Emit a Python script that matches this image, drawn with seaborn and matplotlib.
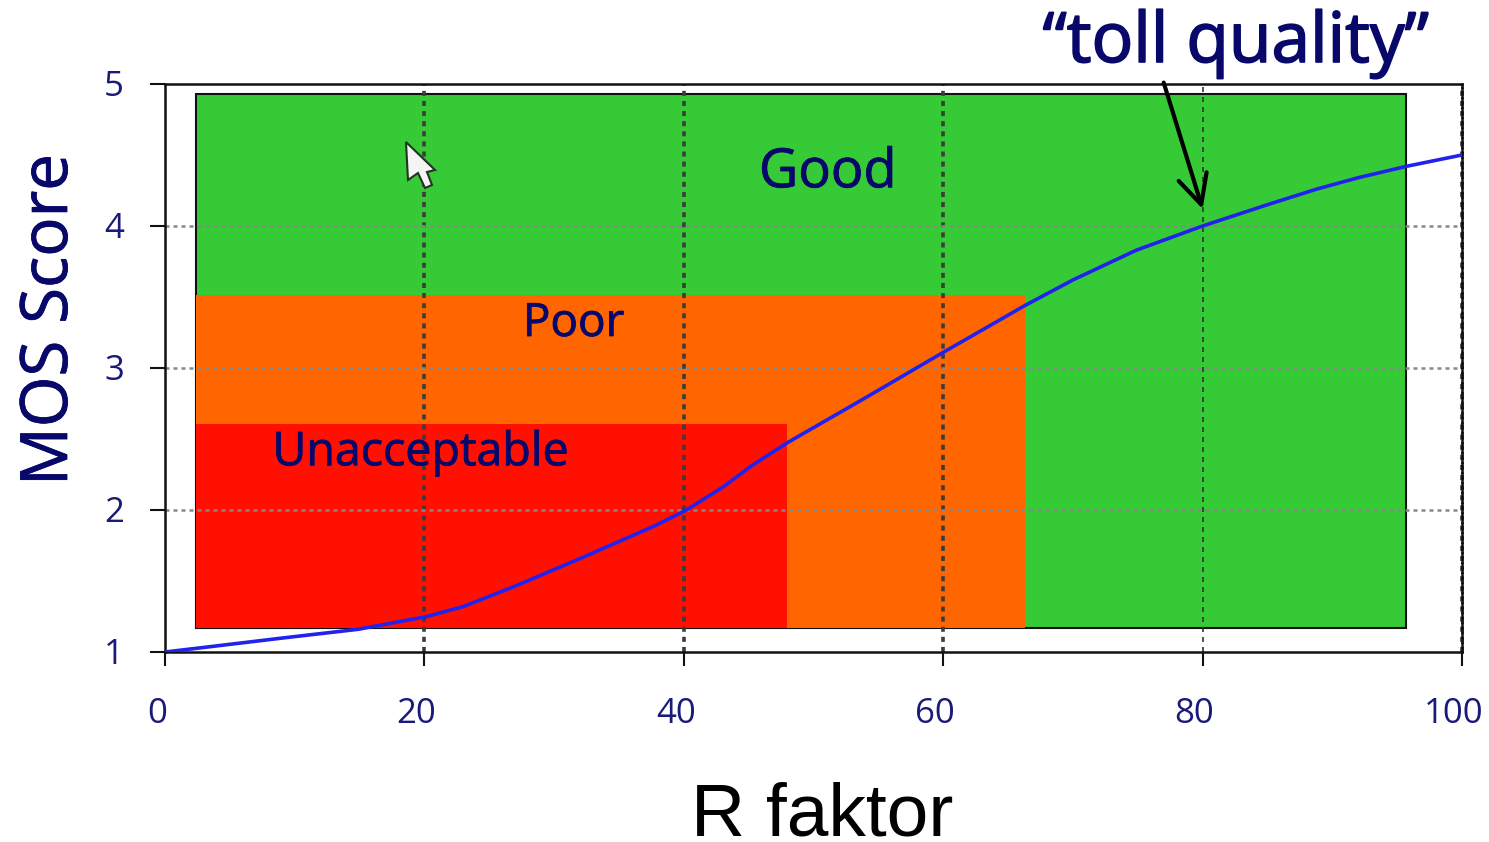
import matplotlib.pyplot as plt
import matplotlib.patches as mpatches
import matplotlib.patheffects as pe
import seaborn as sns
import pandas as pd

# curve
r_values = [0, 2.8, 9.2, 14.9, 20.2, 23, 26.9, 31.8, 34.8, 37.8, 40.2, 43, 45.2, 48.1, 54, 60, 66.3, 70, 74.9, 80, 85, 88.8, 92, 95.7, 100]
mos_values = [1.0, 1.03, 1.1, 1.16, 1.25, 1.32, 1.46, 1.65, 1.77, 1.89, 2.0, 2.16, 2.31, 2.48, 2.79, 3.11, 3.44, 3.62, 3.83, 4.0, 4.15, 4.26, 4.34, 4.42, 4.5]

# colour bands: left, right, bottom, top
good_band = [2.39, 95.7, 1.17, 4.93]
poor_band = [2.39, 66.3, 1.17, 3.514]
bad_band = [2.39, 47.96, 1.17, 2.606]

x_ticks = [0, 20, 40, 60, 80, 100]
y_ticks = [1, 2, 3, 4, 5]

navy = "#1a1a7a"
dark_navy = "#08086a"

sns.set_style("white")
plt.rcParams["font.family"] = ["DejaVu Sans"]

W, H = 1489, 842
fig = plt.figure(figsize=(W / 100, H / 100), dpi=100)
ax = fig.add_axes([165 / W, 1 - 652 / H, (1462 - 165) / W, (652 - 84) / H])

df = pd.DataFrame({"r": r_values, "mos": mos_values})


def add_band(band, color, edge="none"):
    ax.add_patch(mpatches.Rectangle((band[0], band[2]), band[1] - band[0], band[3] - band[2],
                                    facecolor=color, edgecolor=edge, linewidth=1.5, zorder=1))


add_band(good_band, "#36cb36", "#111111")
add_band(poor_band, "#ff6600")
add_band(bad_band, "#ff1000")

for x in x_ticks[1:]:
    if x == 80:
        ax.axvline(x, color="#333333", linestyle=(0, (3, 3)), linewidth=1.2, zorder=2)
    else:
        ax.axvline(x, color="#3c3c3c", linestyle=(0, (1.4, 1.4)), linewidth=2.6, zorder=2, clip_on=False)
for y in y_ticks[1:-1]:
    ax.axhline(y, color="#888888", linestyle=(0, (1.6, 1.6)), linewidth=1.8, zorder=2)

sns.lineplot(data=df, x="r", y="mos", color="#2222ee", linewidth=2.6, ax=ax, zorder=3)

ax.set_xlim(0, 100)
ax.set_ylim(1, 5)
ax.set_xticks(x_ticks)
ax.set_yticks(y_ticks)
ax.set_xticklabels([])
ax.set_yticklabels([])
ax.tick_params(axis="x", length=10, width=1.5, color="#111111", direction="out", bottom=True)
ax.tick_params(axis="y", length=11, width=1.5, color="#111111", direction="out", left=True)
for spine in ax.spines.values():
    spine.set_color("#111111")
    spine.set_linewidth(1.8)
ax.spines["right"].set_linestyle((0, (1.4, 0.6)))
ax.set_xlabel("")
ax.set_ylabel("")

# tick labels sit left of their ticks in the original
for x in x_ticks:
    ax.annotate(str(x), (x, 1), xytext=(-8, -62), textcoords="offset pixels", ha="center", va="center",
                fontsize=25, color=navy, fontfamily="Open Sans", annotation_clip=False)
for y in y_ticks:
    ax.annotate(str(y), (0, y), xytext=(-51, -3), textcoords="offset pixels", ha="center", va="center",
                fontsize=25, color=navy, fontfamily="Open Sans", annotation_clip=False)

thicken = [pe.withStroke(linewidth=0.6, foreground=dark_navy)]
ax.text(51.1, 4.375, "Good", ha="center", va="center", fontsize=39, color=dark_navy,
        fontfamily="Open Sans", zorder=4, path_effects=thicken)
ax.text(31.5, 3.31, "Poor", ha="center", va="center", fontsize=33, color=dark_navy,
        fontfamily="Open Sans", zorder=4, path_effects=thicken)
ax.text(19.7, 2.405, "Unacceptable", ha="center", va="center", fontsize=33.5, color=dark_navy,
        fontfamily="Open Sans", zorder=4, path_effects=thicken)

# cursor glyph in the screenshot, placed in picture pixels
cursor_px = [(406, 142), (408, 180), (418, 173), (425, 188), (432, 185), (427, 172), (435, 170)]
ax.add_patch(mpatches.Polygon([(px / W, 1 - py / H) for px, py in cursor_px], closed=True,
                              transform=fig.transFigure, facecolor="#f4f4f4", edgecolor="#223322",
                              linewidth=1.5, zorder=5))

ax.annotate("", xy=(80, 4.12), xytext=(77, 5.01), annotation_clip=False, zorder=6,
            arrowprops=dict(arrowstyle="->,head_length=0.7,head_width=0.35", color="black", lw=3,
                            mutation_scale=30, shrinkA=0, shrinkB=0))

fig.text(1236 / W, 1 - 44 / H, "\u201ctoll quality\u201d", ha="center", va="center",
         fontsize=50, color=dark_navy, family="Open Sans",
         path_effects=[pe.withStroke(linewidth=1.2, foreground=dark_navy)])
fig.text(50 / W, 1 - 320 / H, "MOS Score", rotation=90, ha="center", va="center",
         fontsize=47, color=dark_navy, family="Open Sans", path_effects=thicken)
fig.text(822 / W, 1 - 836 / H, "R faktor", ha="center", va="baseline",
         fontsize=54, color="black", family="Liberation Sans")

fig.savefig("out.png", dpi=100)
